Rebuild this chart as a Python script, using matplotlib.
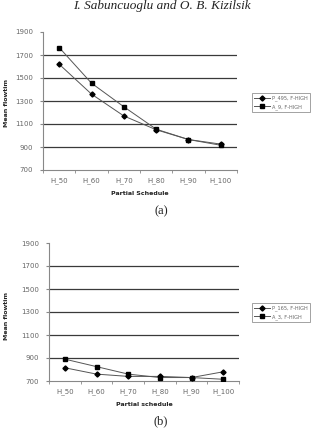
import numpy as np
import matplotlib
matplotlib.use("Agg")
import matplotlib.pyplot as plt

# partial schedule levels (x categories)
schedules = ['H_50', 'H_60', 'H_70', 'H_80', 'H_90', 'H_100']
yticks = [700, 900, 1100, 1300, 1500, 1700, 1900]

# chart (a)
a_names = ['P_495, F-HIGH', 'A_9, F-HIGH']
a_p495 = [1620, 1360, 1170, 1050, 965, 925]
a_a9 = [1765, 1455, 1250, 1055, 965, 915]

# chart (b)
b_names = ['P_165, F-HIGH', 'A_3, F-HIGH']
b_p165 = [815, 760, 740, 740, 730, 780]
b_a3 = [890, 825, 760, 730, 730, 715]

W, H = 323, 433
fig = plt.figure(figsize=(W / 100, H / 100), dpi=100)

TXT = '#666666'
SPINE = '#888888'


def box(l, t, r, b):
    return [l / W, 1 - b / H, (r - l) / W, (b - t) / H]


def draw(rect, s1, s2, names, xlabel, legrect, cap, capy, ylab_y):
    ax = fig.add_axes(rect)
    x = np.arange(len(schedules))
    ax.set_xlim(-0.5, len(schedules) - 0.5)
    ax.set_ylim(700, 1900)
    for g in yticks[1:-1]:
        ax.axhline(g, color='#3a3a3a', lw=0.9, zorder=1)
    l1, = ax.plot(x, s1, color='#555555', lw=0.7, marker='D', ms=2.6,
                  mfc='black', mec='black', zorder=3)
    l2, = ax.plot(x, s2, color='#555555', lw=0.7, marker='s', ms=3.2,
                  mfc='black', mec='black', zorder=3)
    for sp in ['top', 'right']:
        ax.spines[sp].set_visible(False)
    for sp in ['left', 'bottom']:
        ax.spines[sp].set_color(SPINE)
        ax.spines[sp].set_linewidth(0.8)
    ax.set_yticks(yticks)
    ax.set_yticklabels([str(v) for v in yticks])
    ax.set_xticks(x)
    ax.set_xticklabels(schedules)
    ax.set_xticks(np.arange(-0.5, len(schedules)), minor=True)
    ax.tick_params(axis='x', which='major', length=0, pad=5, labelsize=5, labelcolor=TXT)
    ax.tick_params(axis='x', which='minor', length=2, color=SPINE, direction='out')
    ax.tick_params(axis='y', length=2, color=SPINE, pad=5, labelsize=5, labelcolor=TXT)
    ax.set_xlabel(xlabel, fontsize=4.5, fontweight='bold', color='#222222', labelpad=5)
    fig.text(7 / W, 1 - ylab_y / H, 'Mean flowtim', rotation=90, ha='center',
             va='center', fontsize=4.5, fontweight='bold', color='#222222')
    leg = fig.legend([l1, l2], names, loc='center',
                     bbox_to_anchor=legrect, bbox_transform=fig.transFigure,
                     fontsize=3.6, frameon=True, fancybox=False, borderpad=0.5,
                     handlelength=3.2, handletextpad=0.4, labelspacing=0.6,
                     borderaxespad=0)
    leg.get_frame().set_edgecolor('#777777')
    leg.get_frame().set_linewidth(0.6)
    for t in leg.get_texts():
        t.set_color(TXT)
    fig.text(cap[0] / W, 1 - capy / H, cap[1], ha='center', va='center',
             fontsize=9, family='Liberation Serif', color='#222222')
    return ax


draw(box(43, 32, 237, 170), a_p495, a_a9, a_names, 'Partial Schedule',
     box(241, 92, 321, 113), (161, '(a)'), 211, 103)
draw(box(49, 243, 239, 381), b_p165, b_a3, b_names, 'Partial schedule',
     box(240, 302, 322, 323), (161, '(b)'), 421, 316)

fig.text(162 / W, 1 - 0.5 / H, 'I. Sabuncuoglu and O. B. Kizilsik', ha='center',
         va='top', fontsize=9.5, family='Liberation Serif', style='italic',
         color='#222222')

fig.savefig('out.png', dpi=100)
